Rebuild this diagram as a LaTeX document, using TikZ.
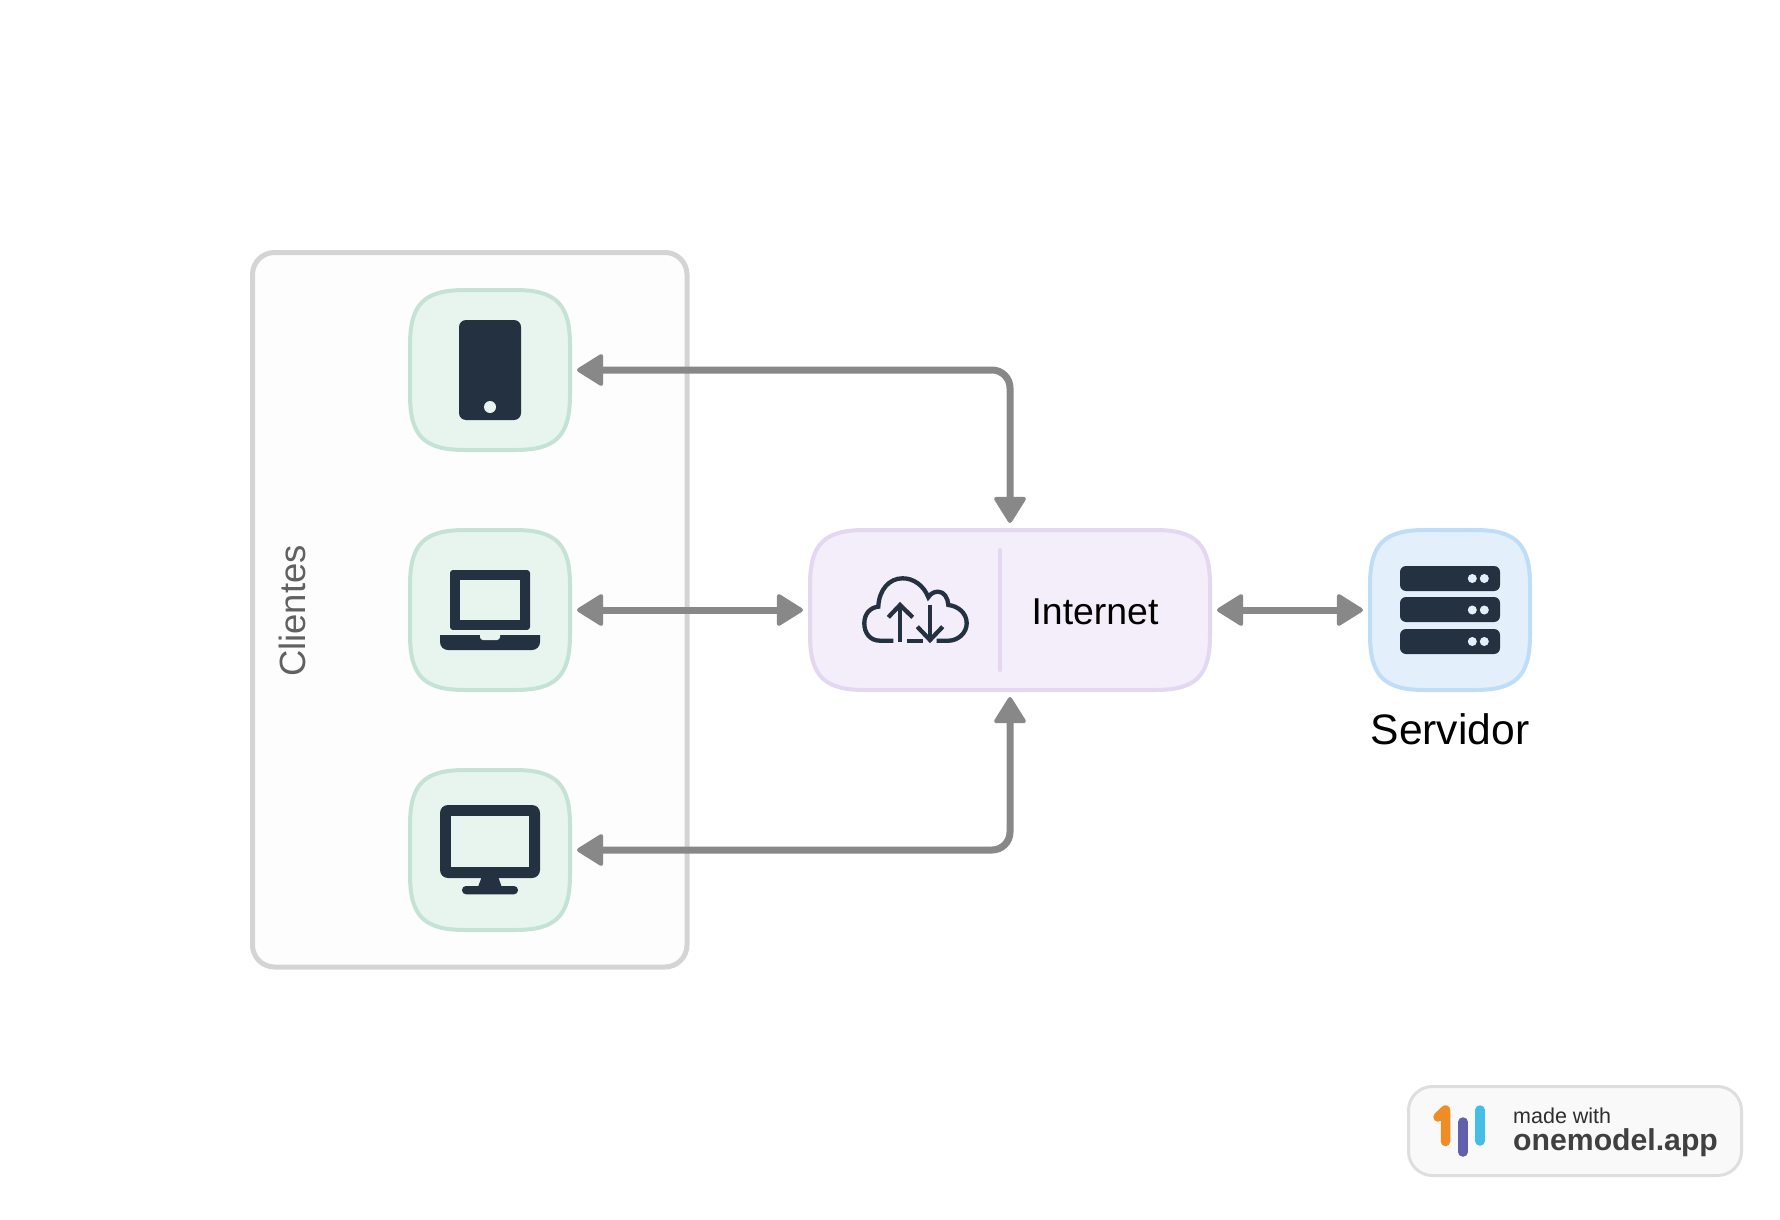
\documentclass[tikz,border=0pt]{standalone}
\usepackage{fontspec}
\setmainfont{Liberation Sans}
\usepackage{xcolor}
\usepackage{tikz}
\usetikzlibrary{arrows.meta,positioning}
\definecolor{TileGreen}{RGB}{232,245,238}
\definecolor{EdgeGreen}{RGB}{197,227,213}
\definecolor{TilePurple}{RGB}{244,238,250}
\definecolor{EdgePurple}{RGB}{227,215,241}
\definecolor{TileBlue}{RGB}{227,240,252}
\definecolor{EdgeBlue}{RGB}{190,221,249}
\definecolor{IconDark}{RGB}{35,49,64}
\definecolor{LinkGray}{RGB}{136,136,136}
\newcommand{\fsize}[1]{\fontsize{#1}{#1}\selectfont}
\newcommand{\softtile}[6]{%
 \draw[draw=#5, fill=#6, line width=4pt, shift={(#2,#3)}] (-#4,-25) .. controls (-#4,-66) and (-#4+14,-80) .. (-#4+55,-80)
  -- (#4-55,-80) .. controls (#4-14,-80) and (#4,-66) .. (#4,-25)
  -- (#4,25) .. controls (#4,66) and (#4-14,80) .. (#4-55,80)
  -- (-#4+55,80) .. controls (-#4+14,80) and (-#4,66) .. (-#4,25) -- cycle;
 \node[tile, minimum width={2*#4 pt}] (#1) at (#2,#3) {};}

\begin{document}
\begin{tikzpicture}[
 x=1pt, y=-1pt,
 tile/.style={line width=4pt, minimum height=160pt, inner sep=0pt},
 link/.style={draw=LinkGray, line width=7pt, rounded corners=18pt, shorten <=5pt, shorten >=5pt,
  {Triangle[length=28pt,width=34pt,line width=4pt,round]}-{Triangle[length=28pt,width=34pt,line width=4pt,round]}},
 icon/.style={fill=IconDark},
 cloudline/.style={draw=IconDark, line width=4.3pt},
 bar/.style={line width=9.5pt, line cap=round, line join=round}
]
\useasboundingbox (0,0) rectangle (1780,1220);
\fill[white] (0,0) rectangle (1780,1220);

\node[draw=black!17, fill=black!0.8, line width=5pt, rounded corners=22pt, minimum width=434.5pt, minimum height=714.5pt] (clients) at (469.75,609.75) {};
\node[rotate=90, text=black!62, font=\fsize{36.5}, inner sep=0pt] (clientes) at (292,611) {Clientes};

\softtile{phone}{490}{370}{80}{EdgeGreen}{TileGreen}
\softtile{laptop}{490}{610}{80}{EdgeGreen}{TileGreen}
\softtile{desktop}{490}{850}{80}{EdgeGreen}{TileGreen}
\softtile{internet}{1010}{610}{200}{EdgePurple}{TilePurple}
\softtile{server}{1450}{610}{80}{EdgeBlue}{TileBlue}
\node[below=21pt of server, font=\fsize{42.6}, inner sep=0pt] (servidor) {Servidor};
\node[font=\fsize{37.4}, inner sep=0pt] (internetlabel) at (1095,612) {Internet};

\draw[EdgePurple, line width=4pt, line cap=round] (1000,550) -- (1000,670);

\draw[link] (phone.east) -| (internet.north);
\draw[link] (laptop.east) -- (internet.west);
\draw[link] (desktop.east) -| (internet.south);
\draw[link] (internet.east) -- (server.west);

\fill[icon, rounded corners=7pt] (459,320) rectangle (521,420);
\fill[TileGreen] (490,407) circle (6);

\fill[icon, rounded corners=3pt] (450,570) rectangle (530,630);
\fill[TileGreen] (460,580) rectangle (520,620);
\fill[icon] (440,635) -- (540,635) [rounded corners=8pt] -- (540,650) -- (440,650) [sharp corners] -- cycle;
\fill[TileGreen, rounded corners=3pt] (480,632) rectangle (500,640);
\fill[TileGreen] (440,630) rectangle (540,635);

\fill[icon, rounded corners=8pt] (440,805) rectangle (540,878);
\fill[TileGreen] (450.7,816) rectangle (529.3,866.7);
\fill[icon] (481.7,877) -- (498.3,877) -- (501.7,887) -- (478,887) -- cycle;
\fill[icon, rounded corners=4pt] (462,886) rectangle (518,894.3);

\fill[icon, rounded corners=6pt] (1400,566) rectangle (1500,591);
\fill[icon, rounded corners=6pt] (1400,597) rectangle (1500,622);
\fill[icon, rounded corners=6pt] (1400,629) rectangle (1500,654);
\foreach \row in {578.5,610,641.5} {
 \fill[TileBlue] (1472.3,\row) circle (4.5);
 \fill[TileBlue] (1484.3,\row) circle (4.5);
}

\draw[cloudline] (893.3,640.7) -- (880,640.7) .. controls (870,640.7) and (864.3,633) .. (864.3,623.3)
 .. controls (864.3,614) and (870,607.5) .. (878.3,606.7) .. controls (879,590) and (889,578.3) .. (902.7,578.3)
 .. controls (914,578.3) and (924,586) .. (928.3,597.3) .. controls (931,593) and (934.5,591.7) .. (938.3,591.7)
 .. controls (944,591.7) and (948,598) .. (948.3,605) .. controls (958,606) and (966.7,613) .. (966.7,623.3)
 .. controls (966.7,633) and (958,640.7) .. (948.3,640.7) -- (936.7,640.7);
\draw[cloudline] (906.7,640.7) -- (923.3,640.7);
\draw[cloudline] (900,642) -- (900,605);
\draw[cloudline] (888.3,617.3) -- (900,605) -- (912.7,617.3);
\draw[cloudline] (930,605) -- (930,640);
\draw[cloudline] (917.3,626.7) -- (930,640) -- (942.7,626.7);

\node[draw=black!13, fill=black!2.5, line width=3pt, rounded corners=24pt, minimum width=333pt, minimum height=89pt] (badge) at (1575,1131) {};
\draw[bar, color={rgb,255:red,240;green,140;blue,37}] (1438,1117) -- (1445.5,1110) -- (1445.5,1141.5);
\draw[bar, color={rgb,255:red,96;green,96;blue,172}] (1463,1122) -- (1463,1152);
\draw[bar, color={rgb,255:red,69;green,189;blue,230}] (1480,1110) -- (1480,1141);
\node[anchor=base west, font=\fsize{21.5}, text=black!82, inner sep=0pt] (madewith) at (1513,1123) {made with};
\node[anchor=base west, font=\fsize{30.2}\bfseries, text=black!75, inner sep=0pt] (onemodel) at (1513,1150) {onemodel.app};
\end{tikzpicture}
\end{document}
